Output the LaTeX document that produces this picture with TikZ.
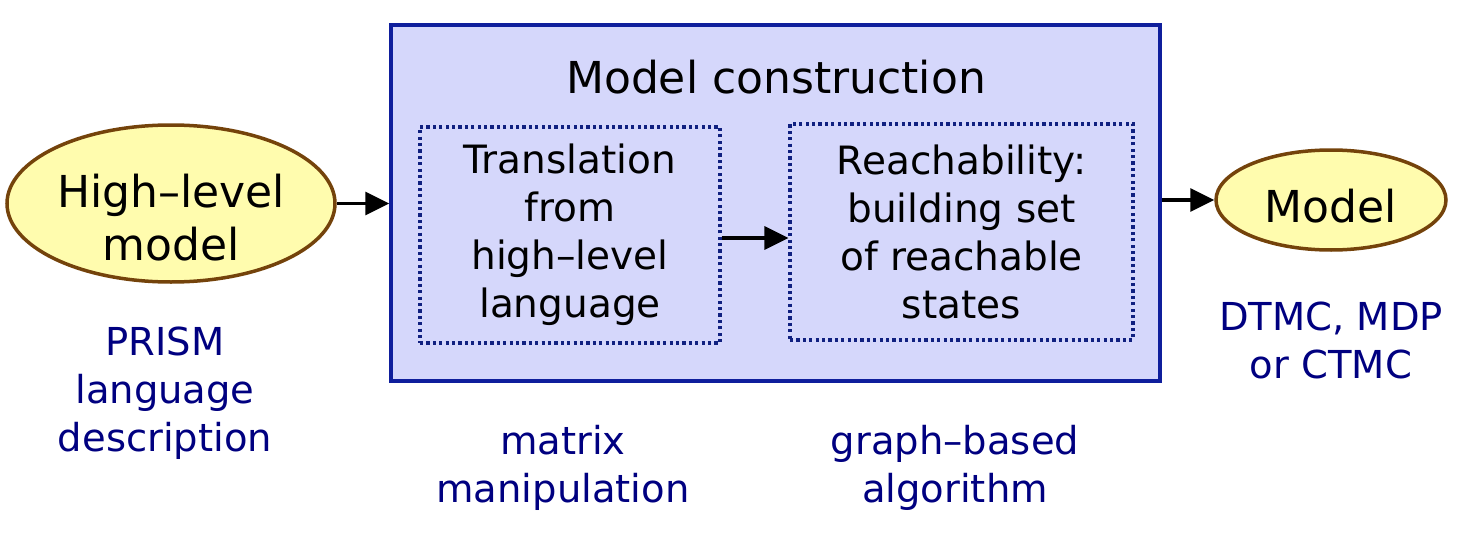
\documentclass[tikz,border=0pt]{standalone}
\usepackage{fontspec}
\setmainfont{DejaVu Sans}
\usetikzlibrary{shapes.geometric,arrows.meta}
\definecolor{boxfill}{HTML}{D5D7FB}
\definecolor{boxline}{HTML}{0F1E9C}
\definecolor{ellfill}{HTML}{FFFCAE}
\definecolor{ellline}{HTML}{74430B}
\definecolor{navy}{HTML}{000080}
\definecolor{dotline}{HTML}{102080}
\tikzset{
  x=1pt,y=-1pt,
  ell/.style={ellipse,draw=ellline,fill=ellfill,line width=3.5pt,inner sep=0pt},
  txt/.style={font=\fontsize{39}{48}\selectfont,align=center,inner sep=0pt},
  bigtxt/.style={txt,font=\fontsize{44}{53}\selectfont},
  lbl/.style={txt,font=\fontsize{38.5}{48}\selectfont,text=navy},
  dotbox/.style={draw=dotline,line width=3.2pt,dash pattern=on 3.2pt off 3.2pt},
  arr/.style={-{Triangle[length=24pt,width=23pt]},line width=3.5pt,black}
}
\begin{document}
\begin{tikzpicture}
\useasboundingbox (0,0) rectangle (1465,538);
% main box
\node[draw=boxline,fill=boxfill,line width=3.5pt,minimum width=769pt,minimum height=356pt,inner sep=0pt] (main) at (775.5,203) {};
\node[bigtxt] (title) at (776,77) {Model construction};
\node[dotbox,minimum width=300pt,minimum height=216pt,inner sep=0pt] (trans) at (570,235) {};
\node[txt] (transtxt) at (570,235) {Translation\\from\\high–level\\language};
\node[dotbox,minimum width=343pt,minimum height=216pt,inner sep=0pt] (reach) at (961.5,232) {};
\node[txt] (reachtxt) at (961.5,232) {Reachability:\\building set\\of reachable\\states};
% ellipses
\node[ell,minimum width=328pt,minimum height=157pt] (hl) at (171,203.5) {};
\node[bigtxt] (hltxt) at (171,218) {High–level\\model};
\node[ell,minimum width=230pt,minimum height=100pt] (mod) at (1331,200) {};
\node[bigtxt] (modtxt) at (1331,206) {Model};
% labels
\node[lbl] (prism) at (165,393) {PRISM\\language\\description};
\node[lbl] (matrix) at (563,468) {matrix\\manipulation};
\node[lbl] (graph) at (955,468) {graph–based\\algorithm};
\node[lbl] (dtmc) at (1331,340) {DTMC, MDP\\or CTMC};
% arrows
\draw[arr] (hl.east) -- (hl.east -| main.west);
\draw[arr] (trans.east |- 0,238) -- (reach.west |- 0,238);
\draw[arr] (main.east |- mod.west) -- (mod.west);
\end{tikzpicture}
\end{document}
